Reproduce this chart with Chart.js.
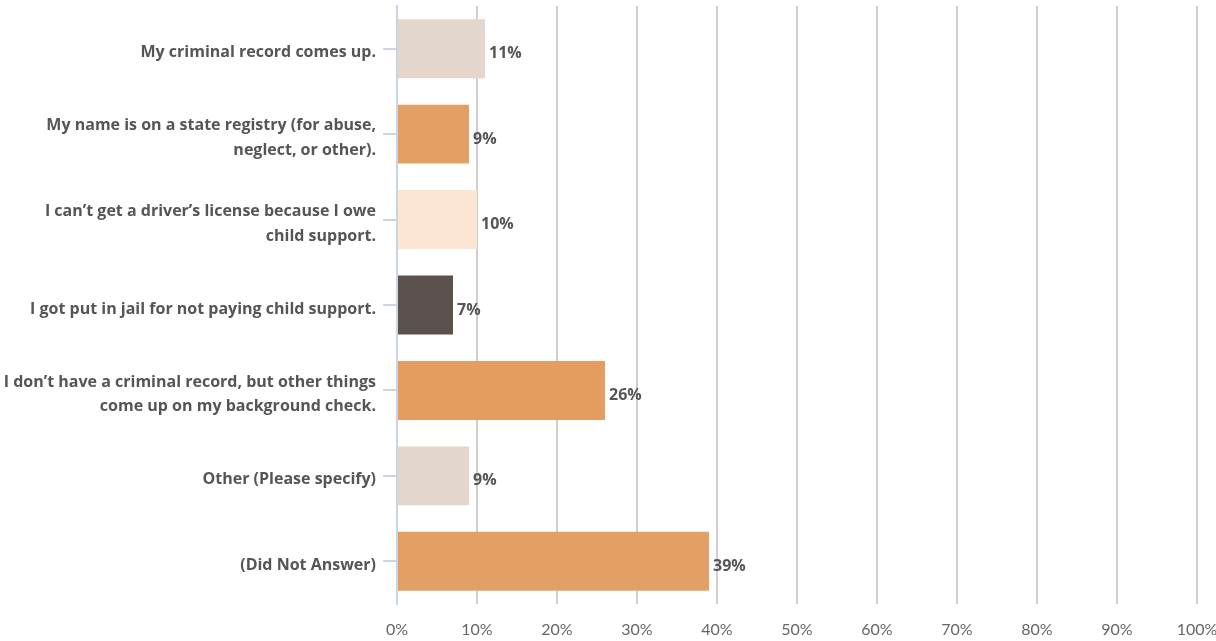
<!DOCTYPE html>
<html>
<head>
<meta charset="utf-8">
<script src="https://cdn.jsdelivr.net/npm/chart.js@4.4.0/dist/chart.umd.min.js"></script>
<style>
  html, body { margin: 0; padding: 0; background: #fff; }
  #wrap { width: 1216px; height: 641px; }
</style>
</head>
<body>
<div id="wrap"><canvas id="answersChart" width="1216" height="641"></canvas></div>
<script>
// Survey answers
const answers = [
  "My criminal record comes up.",
  ["My name is on a state registry (for abuse,", "neglect, or other)."],
  ["I can\u2019t get a driver\u2019s license because I owe", "child support."],
  "I got put in jail for not paying child support.",
  ["I don\u2019t have a criminal record, but other things", "come up on my background check."],
  "Other (Please specify)",
  "(Did Not Answer)"
];
const percents = [11, 9, 10, 7, 26, 9, 39];
const barColors = ["#e3d6cc", "#e3a064", "#fde5d4", "#5b514f", "#e59c60", "#e3d6cc", "#e3a064"];
const xTicks = [0, 10, 20, 30, 40, 50, 60, 70, 80, 90, 100];

// value label after each bar
const valueLabels = {
  id: "valueLabels",
  afterDatasetsDraw(chart) {
    const ctx = chart.ctx;
    const meta = chart.getDatasetMeta(0);
    ctx.save();
    ctx.font = "bold 16px 'Open Sans'";
    ctx.fillStyle = "#555";
    ctx.textAlign = "left";
    ctx.textBaseline = "middle";
    meta.data.forEach((bar, i) => {
      ctx.fillText(percents[i] + "%", bar.x + 4, bar.y + 5);
    });
    ctx.restore();
  }
};

document.addEventListener("DOMContentLoaded", function () {
  const ctx = document.getElementById("answersChart").getContext("2d");
  new Chart(ctx, {
    type: "bar",
    data: {
      labels: answers,
      datasets: [
        {
          data: percents,
          backgroundColor: barColors,
          borderWidth: 0,
          barPercentage: 0.69,
          categoryPercentage: 1.0,
        },
      ],
    },
    options: {
      indexAxis: "y",
      responsive: false,
      animation: false,
      layout: { padding: { top: 6, right: 19, left: 0, bottom: 0 } },
      plugins: {
        legend: { display: false },
        tooltip: { enabled: false },
      },
      scales: {
        x: {
          min: 0,
          max: 100,
          afterFit: (scale) => {
            scale.height = 37;
            scale.paddingLeft = 0;
            scale.paddingRight = 0;
          },
          afterBuildTicks: (scale) => {
            scale.ticks = xTicks.map((v) => ({ value: v }));
          },
          grid: { color: "#cfcfcf", lineWidth: 2, drawTicks: false },
          border: { display: false },
          ticks: {
            padding: 16,
            color: "#666",
            font: { family: "Lato", size: 16 },
            callback: (v) => v + "%",
          },
        },
        y: {
          afterFit: (scale) => {
            scale.width = 397;
            scale.paddingTop = 0;
            scale.paddingBottom = 0;
          },
          grid: {
            offset: false,
            drawOnChartArea: false,
            drawTicks: true,
            tickLength: 14,
            color: "#c9d5e0",
            lineWidth: 2,
          },
          border: { color: "#c9d5e0", width: 2 },
          ticks: {
            padding: 7,
            labelOffset: 4,
            color: "#555",
            font: { family: "'Open Sans'", size: 16, weight: "bold", lineHeight: 1.55 },
          },
        },
      },
    },
    plugins: [valueLabels],
  });
});
</script>
</body>
</html>
